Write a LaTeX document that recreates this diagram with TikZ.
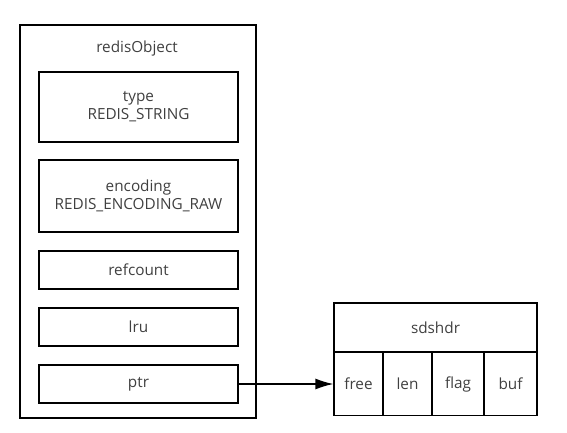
\documentclass[tikz,border=0pt]{standalone}
\usepackage{fontspec}
\setmainfont{Open Sans}
\usetikzlibrary{arrows.meta,positioning}

\begin{document}
\begin{tikzpicture}[
  x=1pt, y=-1pt,
  every node/.style={font=\fontsize{15.3}{18}\selectfont, text=black!75, align=center},
  field/.style={draw, line width=1.3pt, minimum width=199pt, inner sep=0pt},
  cell/.style={draw, line width=1.3pt, minimum height=63pt, inner sep=0pt},
  link/.style={draw, line width=1.3pt, -{Latex[length=18pt,width=11pt]}}
]
\useasboundingbox (0,0) rectangle (567,433);
% redisObject
\node[draw, line width=1.3pt, minimum width=236pt, minimum height=393pt] (outer) at (138,221.5) {};
\node (title) at (137,49) {redisObject};
\node[field, minimum height=70pt] (type) at (138.5,107) {type\\REDIS\_STRING};
\node[field, minimum height=72pt] (encoding) at (138.5,196) {encoding\\REDIS\_ENCODING\_RAW};
\node[field, minimum height=38pt] (refcount) at (138.5,270) {refcount};
\node[field, minimum height=38pt] (lru) at (138.5,327) {lru};
\node[field, minimum height=38pt] (ptr) at (138.5,384) {ptr};
% sdshdr
\node[draw, line width=1.3pt, minimum width=203pt, minimum height=49pt, inner sep=0pt] (sdshdr) at (435.5,327.5) {sdshdr};
\node[cell, minimum width=49pt] (free) at (358.5,384) {free};
\node[cell, minimum width=49pt] (len) at (407.5,384) {len};
\node[cell, minimum width=52pt] (flag) at (458,384) {flag};
\node[cell, minimum width=53pt] (buf) at (510.5,384) {buf};
\draw[link] (ptr.east) -- (free.west);
\end{tikzpicture}
\end{document}
